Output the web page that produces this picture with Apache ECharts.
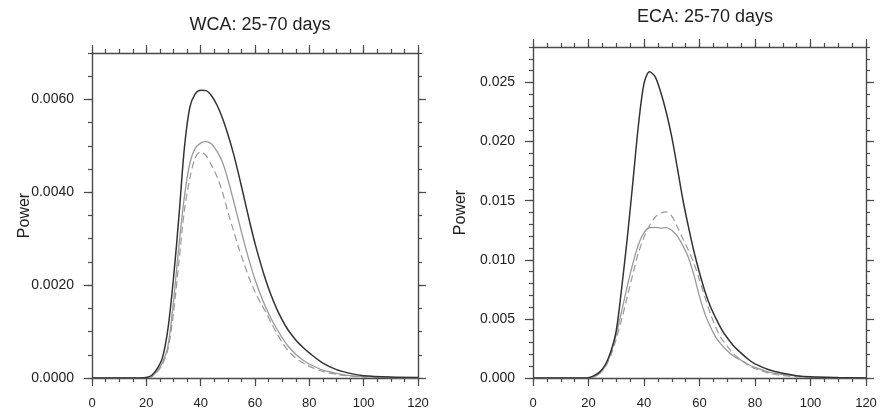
<!DOCTYPE html>
<html>
<head>
<meta charset="utf-8">
<script src="https://cdn.jsdelivr.net/npm/echarts@6/dist/echarts.min.js"></script>
<style>
  html, body { margin: 0; padding: 0; background: #fff; }
  #app { width: 881px; height: 416px; }
</style>
</head>
<body>
<div id="app"></div>
<script>
// period in days
const xDays = [0, 5, 10, 15, 18, 20, 22, 24, 26, 28, 30, 32, 34, 36, 38, 40, 42, 44, 46, 48, 50,
  52, 54, 56, 58, 60, 62, 64, 66, 68, 70, 72, 75, 78, 80, 85, 90, 95, 100, 110, 120];

// WCA panel
const wcaBlack = [0, 0, 0, 0, 0, 0.00001, 0.00006, 0.0002, 0.00045, 0.00108, 0.00215, 0.00348, 0.00495, 0.00583, 0.00612, 0.0062, 0.00619, 0.00608, 0.00588, 0.0056, 0.00525,
  0.00485, 0.00438, 0.00388, 0.00337, 0.0029, 0.00248, 0.0021, 0.00177, 0.00149, 0.00125, 0.00105, 0.00082, 0.00064, 0.00054, 0.00032, 0.00018, 0.0001, 0.00005, 0.00002, 0.00001];
const wcaGray = [0, 0, 0, 0, 0, 0.00001, 0.00004, 0.00015, 0.00034, 0.0007, 0.00165, 0.00285, 0.0039, 0.00462, 0.00495, 0.00506, 0.00509, 0.00504, 0.00488, 0.00465, 0.00428,
  0.00384, 0.00338, 0.00292, 0.0025, 0.00212, 0.0018, 0.00152, 0.00127, 0.00106, 0.00087, 0.0007, 0.00051, 0.00037, 0.0003, 0.00017, 0.0001, 0.00005, 0.00003, 0.00001, 0];
const wcaDash = [0, 0, 0, 0, 0, 0, 0.00003, 0.00013, 0.0003, 0.00063, 0.0014, 0.0025, 0.0036, 0.0043, 0.00474, 0.00487, 0.00479, 0.00458, 0.00434, 0.00401, 0.00358,
  0.00319, 0.0028, 0.00246, 0.00213, 0.00186, 0.00162, 0.00142, 0.00118, 0.00097, 0.00077, 0.0006, 0.00043, 0.00031, 0.00025, 0.00014, 0.00008, 0.00004, 0.00002, 0.00001, 0];

// ECA panel
const ecaBlack = [0, 0, 0, 0, 0, 0.00003, 0.0002, 0.0005, 0.0011, 0.0022, 0.004, 0.0077, 0.0119, 0.0166, 0.0214, 0.0249, 0.0259, 0.0255, 0.0242, 0.0225, 0.0204,
  0.0178, 0.0151, 0.0128, 0.0107, 0.0089, 0.0073, 0.006, 0.005, 0.0041, 0.0034, 0.0028, 0.0021, 0.0015, 0.0012, 0.0007, 0.0004, 0.0002, 0.0001, 0.00004, 0.00001];
const ecaGray = [0, 0, 0, 0, 0, 0.00002, 0.0001, 0.0004, 0.001, 0.0021, 0.0037, 0.0057, 0.0078, 0.0097, 0.0113, 0.0123, 0.01272, 0.01275, 0.01268, 0.01272, 0.0125,
  0.012, 0.0112, 0.0102, 0.0087, 0.0069, 0.0054, 0.0043, 0.0034, 0.0028, 0.0023, 0.0019, 0.0015, 0.0011, 0.0009, 0.0005, 0.0003, 0.00015, 0.00008, 0.00003, 0.00001];
const ecaDash = [0, 0, 0, 0, 0, 0.00002, 0.0001, 0.0004, 0.0009, 0.0019, 0.0033, 0.005, 0.0069, 0.0088, 0.0106, 0.0119, 0.0129, 0.0136, 0.01395, 0.01405, 0.0137,
  0.0128, 0.0118, 0.0108, 0.0097, 0.0083, 0.0068, 0.0054, 0.0042, 0.0033, 0.0027, 0.0021, 0.0015, 0.001, 0.0008, 0.0004, 0.0002, 0.0001, 0.00005, 0.00002, 0];

// ticks
const xTicks = [0, 20, 40, 60, 80, 100, 120];
const wcaYTicks = [0, 0.002, 0.004, 0.006];
const ecaYTicks = [0, 0.005, 0.01, 0.015, 0.02, 0.025];

function steps(end, step) {
  const out = [];
  for (let i = 0; i * step <= end + 1e-9; i++) out.push(Math.round(i * step * 1e6) / 1e6);
  return out;
}
const xMinor = steps(120, 5);
const wcaYMinor = steps(0.007, 0.0005);
const ecaYMinor = steps(0.028, 0.001);

const FRAME = '#4a4a4a';

function pairs(ys) {
  return xDays.map((x, i) => [x, ys[i]]);
}

// 一个轴：主刻度或次刻度
function makeAxis(grid, pos, max, ticks, len, label, line) {
  return {
    type: 'value', gridIndex: grid, position: pos, min: 0, max: max,
    axisLine: { show: line, onZero: false, lineStyle: { color: FRAME, width: 1.4 } },
    axisTick: { show: true, length: len, customValues: ticks, lineStyle: { color: FRAME, width: 1.2 } },
    axisLabel: label ? Object.assign({ customValues: ticks }, label) : { show: false },
    splitLine: { show: false }
  };
}

const xLabel = { margin: 19, color: '#222', fontSize: 13, fontFamily: 'Liberation Sans Narrow, Liberation Sans, Arial' };
const yLabelW = { margin: 18, color: '#222', fontSize: 14, fontFamily: 'Liberation Sans, Arial', formatter: v => v.toFixed(4) };
const yLabelE = { margin: 18, color: '#222', fontSize: 14, fontFamily: 'Liberation Sans, Arial', formatter: v => v.toFixed(3) };

const xAxes = [], yAxes = [];
[[0, wcaYTicks, wcaYMinor, 0.007, yLabelW, 59], [1, ecaYTicks, ecaYMinor, 0.028, yLabelE, 64]].forEach(([g, yt, ym, ymax, yl, gap]) => {
  xAxes.push(makeAxis(g, 'bottom', 120, xTicks, 8, xLabel, true));
  xAxes.push(makeAxis(g, 'bottom', 120, xMinor, 4, null, false));
  xAxes.push(makeAxis(g, 'top', 120, xTicks, 8, null, true));
  xAxes.push(makeAxis(g, 'top', 120, xMinor, 4, null, false));
  const yMain = makeAxis(g, 'left', ymax, yt, 8, yl, true);
  yMain.name = 'Power';
  yMain.nameLocation = 'middle';
  yMain.nameGap = gap;
  yMain.nameMoveOverlap = false;
  yMain.nameTextStyle = { color: '#222', fontSize: 16, fontFamily: 'Liberation Sans, Arial' };
  yAxes.push(yMain);
  yAxes.push(makeAxis(g, 'left', ymax, ym, 4, null, false));
  yAxes.push(makeAxis(g, 'right', ymax, yt, 8, null, true));
  yAxes.push(makeAxis(g, 'right', ymax, ym, 4, null, false));
});

function line(data, idx, color, width, type) {
  return {
    type: 'line', xAxisIndex: idx, yAxisIndex: idx, data: pairs(data),
    smooth: 0.3, showSymbol: false, silent: true,
    lineStyle: { color: color, width: width, type: type }
  };
}

const chart = echarts.init(document.getElementById('app'));
chart.setOption({
  animation: false,
  backgroundColor: '#fff',
  title: [
    { text: 'WCA: 25-70 days', left: 255, top: 11, textAlign: 'center',
      textStyle: { fontSize: 18, fontWeight: 'normal', color: '#222', fontFamily: 'Liberation Sans, Arial' } },
    { text: 'ECA: 25-70 days', left: 700, top: 3, textAlign: 'center',
      textStyle: { fontSize: 18, fontWeight: 'normal', color: '#222', fontFamily: 'Liberation Sans, Arial' } }
  ],
  grid: [
    { left: 92, top: 53, width: 326, height: 325 },
    { left: 533, top: 47, width: 333, height: 331 }
  ],
  xAxis: xAxes,
  yAxis: yAxes,
  series: [
    line(wcaGray, 0, '#999', 1.3, 'solid'),
    line(wcaDash, 0, '#999', 1.2, [7, 4]),
    line(wcaBlack, 0, '#333', 1.5, 'solid'),
    line(ecaGray, 4, '#999', 1.3, 'solid'),
    line(ecaDash, 4, '#999', 1.2, [7, 4]),
    line(ecaBlack, 4, '#333', 1.5, 'solid')
  ]
});
</script>
</body>
</html>
